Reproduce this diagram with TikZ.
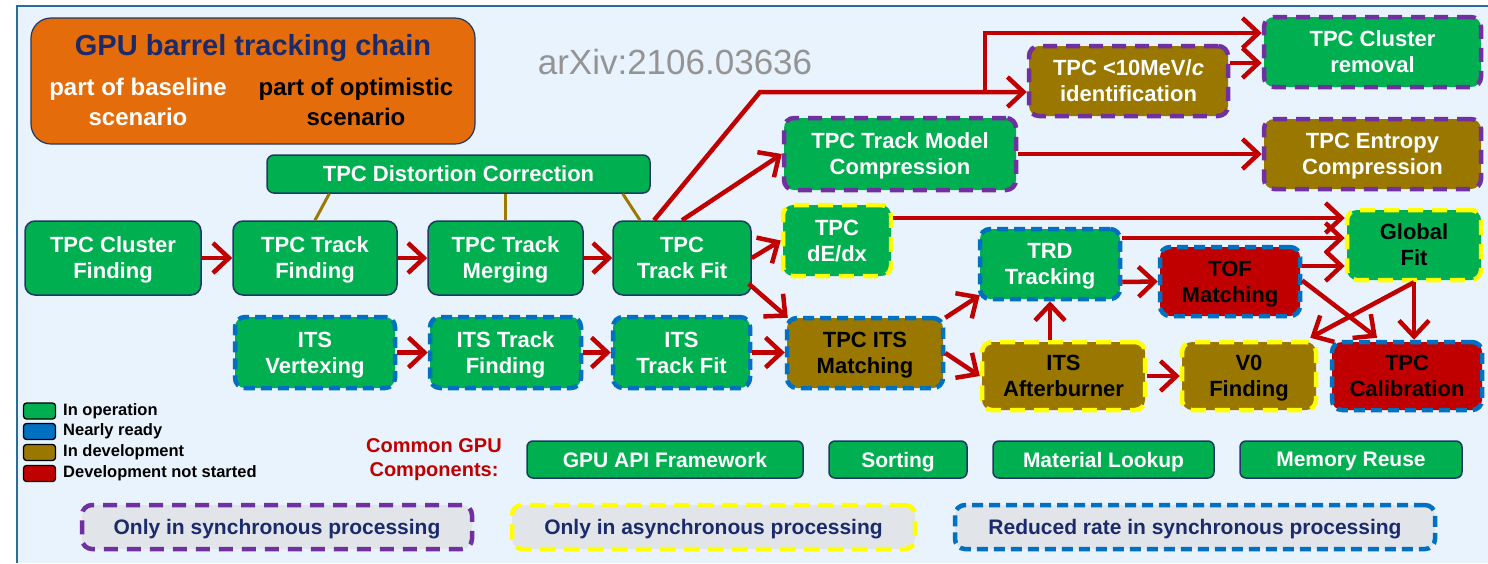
\documentclass[tikz,border=0pt]{standalone}
\usepackage{fontspec}
\setmainfont{Liberation Sans}
\usetikzlibrary{arrows.meta,calc}
\definecolor{bgc}{HTML}{E9F3FD}
\definecolor{framec}{HTML}{2C6C96}
\definecolor{grn}{HTML}{00B050}
\definecolor{brn}{HTML}{9A7800}
\definecolor{redn}{HTML}{C00000}
\definecolor{bluen}{HTML}{0070C0}
\definecolor{purp}{HTML}{7030A0}
\definecolor{yel}{HTML}{FFFF00}
\definecolor{navy}{HTML}{1B2A6B}
\definecolor{navyb}{HTML}{1F3864}
\definecolor{orng}{HTML}{E46C0A}
\definecolor{arr}{HTML}{C00000}
\definecolor{olive}{HTML}{9C7A00}
\definecolor{lgray}{HTML}{E1E5EA}
\tikzset{
  base/.style={rounded corners=10pt, inner sep=0pt, align=center, text depth=0pt,
    font=\bfseries\fontsize{22}{26}\selectfont},
  solidb/.style={base, draw=navyb, line width=1.5pt},
  dpurple/.style={base, draw=purp, line width=4.5pt, dash pattern=on 14pt off 9pt},
  dyellow/.style={base, draw=yel, line width=4.5pt, dash pattern=on 15pt off 9pt},
  dblue/.style={base, draw=bluen, line width=4.5pt, dash pattern=on 11pt off 6pt},
  gn/.style={fill=grn, text=white},
  bw/.style={fill=brn, text=white},
  bk/.style={fill=brn, text=black},
  rd/.style={fill=redn, text=black},
  conn/.style={draw=arr, line width=4.5pt, -{Straight Barb[length=16pt,width=30pt]}},
  thinl/.style={draw=olive, line width=3pt},
  comp/.style={solidb, fill=grn, text=white, rounded corners=6pt,
    font=\bfseries\fontsize{21}{25}\selectfont},
  lgd/.style={base, fill=lgray, text=navy, font=\bfseries\fontsize{21}{25}\selectfont},
  sq/.style={draw=black, line width=1.3pt, rounded corners=3pt, minimum width=32pt, minimum height=16pt, inner sep=0pt},
  lgtext/.style={anchor=west, inner sep=0pt, font=\bfseries\fontsize{16.5}{20}\selectfont}
}
\begin{document}
\begin{tikzpicture}[x=1pt,y=-1pt]
\useasboundingbox (0,0) rectangle (1488,563);
\fill[white] (0,0) rectangle (1488,563);
\fill[bgc] (17,6) rectangle (1488,563);
\draw[framec, line width=1.5pt] (17,563) -- (17,6) -- (1488,6);

% title box
\node[draw=navyb, line width=1.2pt, fill=orng, rounded corners=20pt, minimum width=444pt, minimum height=126pt, inner sep=0pt] (title) at (253,81) {};
\node[font=\bfseries\fontsize{29}{33}\selectfont, text=navy, inner sep=0pt] (ttl) at (253,48) {GPU barrel tracking chain};
\node[font=\bfseries\fontsize{24}{30}\selectfont, text=white, align=center, inner sep=0pt] (base) at (138,102) {part of baseline\\scenario};
\node[font=\bfseries\fontsize{24}{30}\selectfont, text=black, align=center, inner sep=0pt] (opt) at (356,102) {part of optimistic\\scenario};

\node[font=\fontsize{35}{40}\selectfont, text=black!42, inner sep=0pt] (arxiv) at (675,62) {arXiv:2106.03636};

% distortion
\node[solidb, gn, minimum width=383pt, minimum height=38pt, rounded corners=7pt] (dist) at (458.5,174) {TPC Distortion Correction};

% row 1
\node[solidb, gn, minimum width=176pt, minimum height=74pt] (tcf) at (113,258) {TPC Cluster\\Finding};
\node[solidb, gn, minimum width=164pt, minimum height=74pt] (ttf) at (315,258) {TPC Track\\Finding};
\node[solidb, gn, minimum width=155pt, minimum height=74pt] (ttm) at (505.5,258) {TPC Track\\Merging};
\node[solidb, gn, minimum width=138pt, minimum height=74pt] (tfit) at (682,258) {TPC\\Track Fit};

% row 2
\node[dblue, gn, minimum width=160pt, minimum height=71pt] (itsv) at (315,352.5) {ITS\\Vertexing};
\node[dblue, gn, minimum width=151pt, minimum height=71pt] (itsf) at (505.5,352.5) {ITS Track\\Finding};
\node[dblue, gn, minimum width=137pt, minimum height=71pt] (itsfit) at (681.5,352.5) {ITS\\Track Fit};
\node[dblue, bk, minimum width=156pt, minimum height=70pt] (tim) at (865,353) {TPC ITS\\Matching};

% upper right
\node[dyellow, gn, minimum width=108pt, minimum height=71pt] (dedx) at (837,240.5) {TPC\\dE/dx};
\node[dpurple, gn, minimum width=232pt, minimum height=72pt] (tmc) at (900,154) {TPC Track Model\\Compression};
\node[dpurple, bw, minimum width=199pt, minimum height=70pt] (low) at (1128.5,81) {TPC <10MeV/\textit{c}\\identification};
\node[dpurple, gn, minimum width=217pt, minimum height=70pt] (clr) at (1372.5,52) {TPC Cluster\\removal};
\node[dpurple, bw, minimum width=217pt, minimum height=70pt] (ent) at (1372.5,154) {TPC Entropy\\Compression};

% right block
\node[dblue, gn, minimum width=140pt, minimum height=70pt] (trd) at (1050,264) {TRD\\Tracking};
\node[dblue, rd, minimum width=140pt, minimum height=69pt] (tof) at (1230,281.5) {TOF\\Matching};
\node[dyellow, gn, text=black, minimum width=134pt, minimum height=70pt] (gfit) at (1414,245) {Global\\Fit};
\node[dyellow, bk, minimum width=163pt, minimum height=68pt] (itsab) at (1063.5,376) {ITS\\Afterburner};
\node[dyellow, bk, minimum width=134pt, minimum height=68pt] (v0) at (1249,376) {V0\\Finding};
\node[dblue, rd, minimum width=150pt, minimum height=68pt] (tcal) at (1407,376) {TPC\\Calibration};

% thin olive links
\draw[thinl] (ttf.north) -- ($(dist.south west)+(63,0)$);
\draw[thinl] (ttm.north) -- (ttm.north |- dist.south);
\draw[thinl] ($(tfit.north)+(-42,0)$) -- ($(dist.south east)+(-28,0)$);

% red connectors
\draw[conn] (tcf) -- (ttf);
\draw[conn] (ttf) -- (ttm);
\draw[conn] (ttm) -- (tfit);
\draw[conn] (itsv) -- (itsf);
\draw[conn] (itsf) -- (itsfit);
\draw[conn] (itsfit.east) -- (itsfit.east -| tim.west);
\draw[conn] (tfit.east) -- (dedx.west);
\draw[conn] ($(tfit.south east)+(-3,-12)$) -- ($(tim.north west)+(3,2)$);
\draw[conn] (tfit.north) -- (tmc.west);
\coordinate (bend) at (760,92);
\coordinate (br) at (985,92);
\draw[conn] ($(tfit.north)+(-28,0)$) -- (bend) -- ($(low.west)+(0,11)$);
\draw[conn] (br) -- (985,33) -- ($(clr.west)+(0,-19)$);
\draw[conn] ($(low.east)+(0,-18)$) -- ($(clr.west)+(0,11)$);
\draw[conn] (tmc.east) -- (ent.west);
\draw[conn] ($(dedx.east)+(0,-22.5)$) -- ($(gfit.west)+(0,-27)$);
\draw[conn] ($(trd.east)+(0,-26)$) -- ($(gfit.west)+(0,-7)$);
\draw[conn] ($(trd.east)+(0,18)$) -- (tof.west);
\draw[conn] ($(tof.east)+(0,-15.5)$) -- ($(gfit.west)+(0,21)$);
\draw[conn] ($(tof.east)+(0,-1)$) -- ($(tcal.north)+(-30,-2)$);
\draw[conn] (gfit.south) -- (gfit.south |- tcal.north);
\draw[conn] (gfit.south) -- ($(v0.north east)+(-8,-2)$);
\draw[conn] (trd.south |- itsab.north) -- (trd.south);
\draw[conn] (itsab.east) -- (v0.west);
\draw[conn] ($(tim.north east)+(0,2)$) -- ($(trd.south west)+(2,-6)$);
\draw[conn] (tim.east) -- (itsab.west);

% legend squares
\node[sq, fill=grn] (s1) at (39.5,411) {};
\node[sq, fill=bluen] (s2) at (39.5,431.5) {};
\node[sq, fill=brn] (s3) at (39.5,452.5) {};
\node[sq, fill=redn] (s4) at (39.5,473.5) {};
\node[lgtext] (l1) at (63,411) {In operation};
\node[lgtext] (l2) at (63,431.5) {Nearly ready};
\node[lgtext] (l3) at (63,452.5) {In development};
\node[lgtext] (l4) at (63,473.5) {Development not started};

% common components
\node[text=redn, align=center, inner sep=0pt, font=\bfseries\fontsize{20}{24}\selectfont] (cgc) at (434,460) {Common GPU\\Components:};
\node[comp, minimum width=276pt, minimum height=37pt] (c1) at (665,459.5) {GPU API Framework};
\node[comp, minimum width=138pt, minimum height=37pt] (c2) at (898,459.5) {Sorting};
\node[comp, minimum width=221pt, minimum height=37pt] (c3) at (1103.5,459.5) {Material Lookup};
\node[comp, minimum width=222pt, minimum height=37pt] (c4) at (1351,459.5) {Memory Reuse};

% bottom legend
\node[lgd, draw=purp, line width=4.5pt, dash pattern=on 14pt off 9pt, minimum width=390pt, minimum height=44pt] (ls) at (277,527) {Only in synchronous processing};
\node[lgd, draw=yel, line width=4.5pt, dash pattern=on 15pt off 9pt, minimum width=403pt, minimum height=44pt] (la) at (713.5,527) {Only in asynchronous processing};
\node[lgd, draw=bluen, line width=4.5pt, dash pattern=on 11pt off 6pt, minimum width=480pt, minimum height=44pt] (lr) at (1195,527) {Reduced rate in synchronous processing};
\end{tikzpicture}
\end{document}
